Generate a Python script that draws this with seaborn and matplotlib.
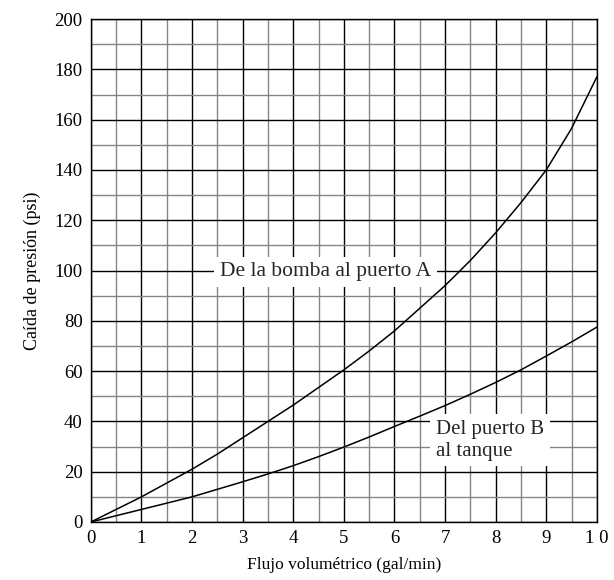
import numpy as np
import pandas as pd
import seaborn as sns
import matplotlib.pyplot as plt
from matplotlib.ticker import MultipleLocator

# Datos
flujo = [0, 0.5, 1, 1.5, 2, 2.5, 3, 3.5, 4, 4.5, 5,
         5.5, 6, 6.5, 7, 7.5, 8, 8.5, 9, 9.5, 10]
bomba_a = [0, 5, 10, 15.5, 21, 27, 33.5, 40, 46.5, 53.5, 60.5,
           68, 76, 85, 94, 104, 115, 127, 140, 156.5, 177]
b_tanque = [0, 2.5, 5, 7.5, 10, 13, 16, 19.1, 22.4, 26, 29.8,
            33.8, 38, 42.1, 46.3, 50.8, 55.5, 60.5, 66, 71.6, 77.5]
x_ticks = [0, 1, 2, 3, 4, 5, 6, 7, 8, 9, 10]
x_labels = ["0", "1", "2", "3", "4", "5", "6", "7", "8", "9", "1 0"]

df = pd.DataFrame({
    "flujo": flujo * 2,
    "caida": bomba_a + b_tanque,
    "linea": ["A"] * len(flujo) + ["B"] * len(flujo),
})

sns.set_theme(style="white")
plt.rcParams["font.family"] = ["Liberation Serif", "DejaVu Serif"]

fig = plt.figure(figsize=(6.14, 5.8), dpi=100)
ax = fig.add_axes([0.148, 0.1, 0.824, 0.867])

ax.set_xlim(0, 10)
ax.set_ylim(0, 200)
ax.xaxis.set_major_locator(MultipleLocator(1))
ax.xaxis.set_minor_locator(MultipleLocator(0.5))
ax.yaxis.set_major_locator(MultipleLocator(20))
ax.yaxis.set_minor_locator(MultipleLocator(10))
ax.grid(which="major", color="black", linewidth=1.0)
ax.grid(which="minor", color="#858585", linewidth=1.0)
ax.set_axisbelow(True)

for lado in ax.spines.values():
    lado.set_color("black")
    lado.set_linewidth(1.0)

sns.lineplot(data=df, x="flujo", y="caida", hue="linea",
             palette=["black", "black"], linewidth=1.1, legend=False, ax=ax)

ax.set_xticks(x_ticks)
ax.set_xticklabels(x_labels)
ax.tick_params(which="both", length=0, labelsize=13.5, colors="black", pad=6)
ax.set_xlabel("Flujo volumétrico (gal/min)", fontsize=12.5, color="black", labelpad=7)
ax.set_ylabel("Caída de presión (psi)", fontsize=13, color="black", labelpad=10)

caja = dict(facecolor="white", edgecolor="none", pad=4)
ax.text(4.64, 99.5, "De la bomba al puerto A", fontsize=15.5, ha="center",
        va="center", bbox=caja, zorder=5)
ax.text(6.82, 32.5, "Del puerto B\nal tanque", fontsize=15, ha="left",
        va="center", linespacing=1.2, bbox=caja, zorder=5)

plt.savefig("out.png", dpi=100)
